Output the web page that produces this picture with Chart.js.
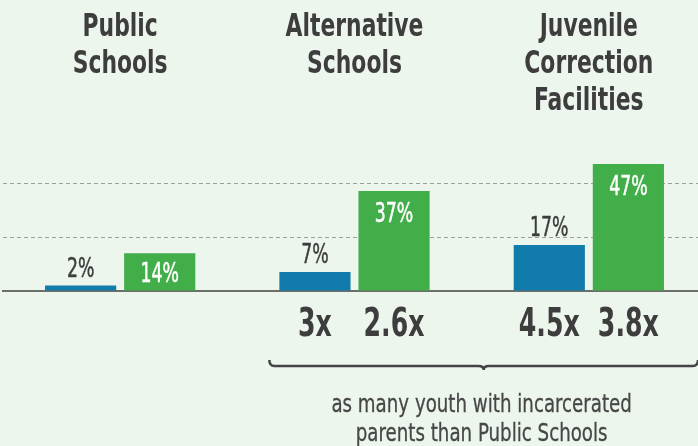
<!DOCTYPE html>
<html>
<head>
<meta charset="utf-8">
<script src="https://cdn.jsdelivr.net/npm/chart.js@4.4.1/dist/chart.umd.min.js"></script>
<style>
  html, body { margin: 0; padding: 0; background: #ecf6ec; overflow: hidden; }
  #wrap { width: 698px; height: 446px; overflow: hidden; }
</style>
</head>
<body>
<div id="wrap"><canvas id="myChart" width="710" height="446"></canvas></div>
<script>
// values
var categories = [['Public', 'Schools'], ['Alternative', 'Schools'], ['Juvenile', 'Correction', 'Facilities']];
var blueValues = [2, 7, 17];
var greenValues = [14, 37, 47];
var blueRatios = ['', '3x', '4.5x'];
var greenRatios = ['', '2.6x', '3.8x'];
var gridTicks = [20, 40];
var captionLines = ['as many youth with incarcerated', 'parents than Public Schools'];

var condensed = '"Liberation Sans Narrow", "DejaVu Sans Condensed", "Roboto Condensed", sans-serif';
var dark = '#3d3d3d';

// draw centred text squeezed horizontally (the original uses a very narrow face)
function squeezeText(ctx, text, x, y, font, color, sx, heavy) {
  ctx.save();
  ctx.font = font;
  ctx.fillStyle = color;
  ctx.textAlign = 'center';
  ctx.textBaseline = 'alphabetic';
  ctx.translate(x, y);
  ctx.scale(sx, 1);
  ctx.fillText(text, 0, 0);
  if (heavy) {
    ctx.strokeStyle = color;
    ctx.lineWidth = heavy;
    ctx.strokeText(text, 0, 0);
  }
  ctx.restore();
}

var overlay = {
  id: 'overlay',
  afterDatasetsDraw: function(chart) {
    var ctx = chart.ctx;
    var xs = chart.scales.x;
    var blueMeta = chart.getDatasetMeta(0);
    var greenMeta = chart.getDatasetMeta(1);
    var base = chart.scales.y.getPixelForValue(0);

    // group titles on top
    categories.forEach(function(lines, i) {
      var cx = xs.getPixelForValue(i);
      lines.forEach(function(line, j) {
        squeezeText(ctx, line, cx, 36 + j * 37, 'bold 32px ' + condensed, dark, 0.76);
      });
    });

    // value labels
    blueMeta.data.forEach(function(bar, i) {
      squeezeText(ctx, blueValues[i] + '%', bar.x, bar.y - 9, '26px ' + condensed, dark, 0.74, 0.45);
    });
    greenMeta.data.forEach(function(bar, i) {
      var h = base - bar.y;
      var y = Math.min(bar.y + 31, base - (h - 19) / 2);
      squeezeText(ctx, greenValues[i] + '%', bar.x, y, '26px ' + condensed, '#ffffff', 0.74, 0.5);
    });

    // ratios under the bars
    blueMeta.data.forEach(function(bar, i) {
      if (blueRatios[i]) squeezeText(ctx, blueRatios[i], bar.x, 336, 'bold 39px ' + condensed, dark, 0.72);
    });
    greenMeta.data.forEach(function(bar, i) {
      if (greenRatios[i]) squeezeText(ctx, greenRatios[i], bar.x, 336, 'bold 39px ' + condensed, dark, 0.72);
    });

    // bracket
    var b1 = blueMeta.data[1], g2 = greenMeta.data[2];
    var left = b1.x - b1.width / 2 - 10;
    var right = g2.x + g2.width / 2 + 34;
    var mid = (left + right) / 2;
    var by = 366;
    ctx.save();
    ctx.strokeStyle = '#444444';
    ctx.lineWidth = 2.5;
    ctx.beginPath();
    ctx.moveTo(left, by - 6);
    ctx.quadraticCurveTo(left, by, left + 5, by);
    ctx.lineTo(mid - 5, by);
    ctx.quadraticCurveTo(mid, by, mid, by + 4);
    ctx.quadraticCurveTo(mid, by, mid + 5, by);
    ctx.lineTo(right - 5, by);
    ctx.quadraticCurveTo(right, by, right, by - 6);
    ctx.stroke();
    ctx.restore();

    captionLines.forEach(function(line, j) {
      squeezeText(ctx, line, mid - 2, 412 + j * 29, '25px ' + condensed, '#474747', 0.81, 0.3);
    });
  }
};

var ctx = document.getElementById('myChart').getContext('2d');

var myChart = new Chart(ctx, {
  type: 'bar',
  data: {
    labels: categories.map(function(c) { return c.join(' '); }),
    datasets: [
      {
        label: 'blue',
        data: blueValues,
        backgroundColor: '#117cac',
        categoryPercentage: 0.675,
        barPercentage: 0.9
      },
      {
        label: 'green',
        data: greenValues,
        backgroundColor: '#42ae4a',
        categoryPercentage: 0.675,
        barPercentage: 0.9
      }
    ]
  },
  options: {
    responsive: false,
    animation: false,
    layout: { padding: { left: 3, right: 4, top: 129, bottom: 147 } },
    plugins: {
      legend: { display: false },
      tooltip: { enabled: false }
    },
    scales: {
      x: {
        grid: { display: false },
        ticks: { display: false },
        border: { display: true, color: '#6c6e69', width: 2 }
      },
      y: {
        min: 0,
        max: 60,
        afterBuildTicks: function(axis) {
          axis.ticks = [0].concat(gridTicks, [60]).map(function(v) { return { value: v }; });
        },
        ticks: { display: false },
        border: { display: false, dash: [4, 3] },
        grid: {
          drawTicks: false,
          color: function(c) {
            return gridTicks.indexOf(c.tick.value) >= 0 ? '#9c9f9b' : 'rgba(0,0,0,0)';
          },
          lineWidth: 1
        }
      }
    }
  },
  plugins: [overlay]
});
</script>
</body>
</html>
